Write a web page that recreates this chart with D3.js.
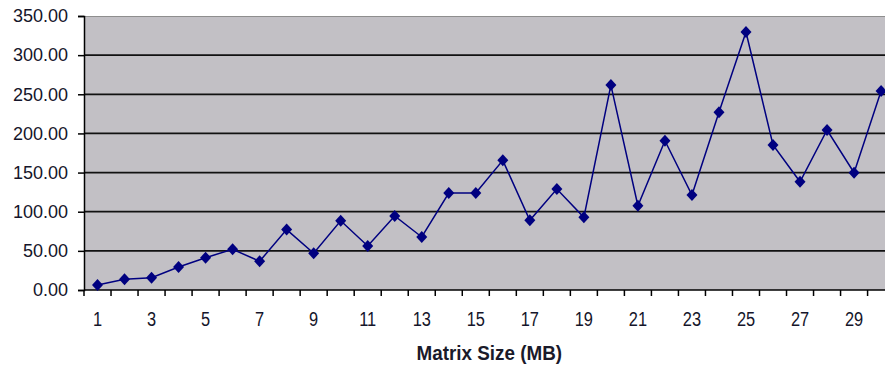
<!DOCTYPE html>
<html>
<head>
<meta charset="utf-8">
<script src="https://cdn.jsdelivr.net/npm/d3@7/dist/d3.min.js"></script>
<style>
  html, body { margin: 0; padding: 0; background: #ffffff; overflow: hidden; }
  svg { display: block; }
</style>
</head>
<body>
<svg id="chart" width="885" height="367"></svg>
<script>
// Matrix size (MB) on the x axis
const sizes = d3.range(1, 31);
// Measured values for each matrix size
const values = [6.4, 13.6, 15.7, 29.4, 41.3, 52.0, 36.7, 77.2, 46.9, 88.5,
                56.2, 94.5, 67.7, 123.9, 123.9, 165.6, 89.0, 129.0, 92.8, 261.8,
                107.7, 190.7, 121.3, 227.0, 329.5, 185.2, 138.3, 204.4, 149.8, 254.2];
const yTicks = [0, 50, 100, 150, 200, 250, 300, 350];
const xTitle = "Matrix Size (MB)";

const svg = d3.select("#chart");
const plotLeft = 84, plotTop = 16, plotBottom = 290, plotRight = 894.6;

const x = d3.scaleBand().domain(sizes).range([plotLeft, plotRight]).padding(0);
const y = d3.scaleLinear().domain([0, 350]).range([plotBottom, plotTop]);

// plot area
svg.append("rect")
  .attr("x", plotLeft).attr("y", plotTop)
  .attr("width", plotRight - plotLeft).attr("height", plotBottom - plotTop)
  .attr("fill", "#c2c0c5");

// top border of the plot area
svg.append("line")
  .attr("x1", plotLeft).attr("x2", plotRight)
  .attr("y1", plotTop + 0.5).attr("y2", plotTop + 0.5)
  .attr("stroke", "#8e8e8e").attr("stroke-width", 1);

// horizontal gridlines
svg.append("g").selectAll("line")
  .data(yTicks.filter(d => d > 0 && d < 350))
  .join("line")
  .attr("x1", plotLeft).attr("x2", plotRight)
  .attr("y1", d => y(d)).attr("y2", d => y(d))
  .attr("stroke", "#111").attr("stroke-width", 1.8);

// y axis
const yAxis = d3.axisLeft(y).tickValues(yTicks)
  .tickFormat(d3.format(".2f")).tickSize(6).tickPadding(10);
const gy = svg.append("g").attr("transform", `translate(${plotLeft},0)`).call(yAxis);
gy.select(".domain").attr("stroke", "#000").attr("stroke-width", 1.5);
gy.selectAll(".tick line").attr("stroke", "#000").attr("stroke-width", 1.5);
gy.selectAll("text")
  .attr("font-family", "'Liberation Sans', Arial, sans-serif")
  .attr("font-size", 18).attr("fill", "#15152a");

// x axis: ticks sit on the category boundaries, labels on odd sizes
const gx = svg.append("g").attr("transform", `translate(0,${plotBottom})`);
gx.append("line")
  .attr("x1", plotLeft).attr("x2", plotRight).attr("y1", 0).attr("y2", 0)
  .attr("stroke", "#000").attr("stroke-width", 1.5);
gx.selectAll("line.tk")
  .data(d3.range(sizes.length + 1))
  .join("line").attr("class", "tk")
  .attr("x1", i => plotLeft + i * x.step()).attr("x2", i => plotLeft + i * x.step())
  .attr("y1", 0).attr("y2", 6)
  .attr("stroke", "#000").attr("stroke-width", 1.5);
// condensed category labels
gx.selectAll("text")
  .data(sizes.filter(d => d % 2 === 1))
  .join("text")
  .attr("transform", d => `translate(${x(d) + x.bandwidth() / 2},35.5) scale(0.8,1)`)
  .attr("text-anchor", "middle")
  .attr("font-family", "'Liberation Sans', Arial, sans-serif")
  .attr("font-size", 20.5).attr("fill", "#15152a")
  .text(d => d);

// axis title
svg.append("text")
  .attr("transform", `translate(${(plotLeft + plotRight) / 2},360) scale(0.92,1)`)
  .attr("text-anchor", "middle")
  .attr("font-family", "'Liberation Sans', Arial, sans-serif")
  .attr("font-weight", "bold").attr("font-size", 20.5).attr("fill", "#1a1a2a")
  .text(xTitle);

// series line
const cx = d => x(d) + x.bandwidth() / 2;
svg.append("path")
  .datum(sizes.map((s, i) => [s, values[i]]))
  .attr("fill", "none").attr("stroke", "#000080").attr("stroke-width", 1.5)
  .attr("d", d3.line().x(d => cx(d[0])).y(d => y(d[1])));

// diamond markers
svg.append("g").selectAll("path")
  .data(sizes.map((s, i) => [s, values[i]]))
  .join("path")
  .attr("transform", d => `translate(${cx(d[0])},${y(d[1])})`)
  .attr("d", "M0,-6L5.5,0L0,6L-5.5,0Z")
  .attr("fill", "#000080");
</script>
</body>
</html>
